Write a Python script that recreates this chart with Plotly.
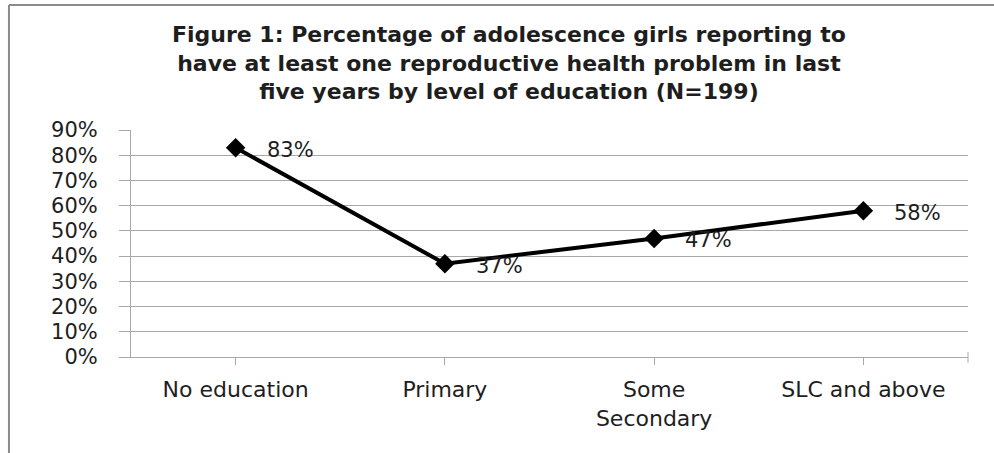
import plotly.graph_objects as go

categories = ["No education", "Primary", "Some<br>Secondary", "SLC and above"]
values = [0.83, 0.37, 0.47, 0.58]
labels = ["83%", "37%", "47%", "58%"]
title_text = ("<b>Figure 1: Percentage of adolescence girls reporting to<br>"
              "have at least one reproductive health problem in last<br>"
              "five years by level of education (N=199)</b>")

FONT = "DejaVu Sans"
TXT = "#1e1e1e"
GRID = "#a8a8a8"

fig = go.Figure()
fig.add_trace(go.Scatter(
    x=categories, y=values, mode="lines+markers",
    line=dict(color="black", width=4),
    marker=dict(symbol="diamond", size=15, color="black"),
    showlegend=False, hoverinfo="skip",
))

for c, v, t in zip(categories, values, labels):
    fig.add_annotation(x=c, y=v, text=t, showarrow=False, xanchor="left",
                       yanchor="middle", xshift=29, yshift=-2,
                       font=dict(family=FONT, size=21, color=TXT))

# chart frame (left and top edges) and end tick of the category axis
fig.add_shape(type="line", xref="paper", yref="paper", x0=-0.1458, x1=-0.1458,
              y0=1.551, y1=-0.5, line=dict(color="#8a8a8a", width=2))
fig.add_shape(type="line", xref="paper", yref="paper", x0=-0.1458, x1=1.04,
              y0=1.551, y1=1.551, line=dict(color="#8a8a8a", width=2))
fig.add_shape(type="line", xref="paper", yref="paper", x0=1, x1=1,
              y0=0.022, y1=-0.026, line=dict(color=GRID, width=1))

fig.update_layout(
    width=994, height=453,
    margin=dict(l=131, r=26, t=130, b=96),
    paper_bgcolor="white", plot_bgcolor="white",
    title=dict(text=title_text, x=0.512, xanchor="center", xref="container",
               y=1 - 42 / 453, yanchor="top", yref="container",
               font=dict(family=FONT, size=22, color=TXT)),
    font=dict(family=FONT, color=TXT),
)
fig.update_xaxes(
    type="category", range=[-0.5, 3.5],
    showline=True, linecolor=GRID, linewidth=1,
    showgrid=False, ticks="outside", ticklen=7, tickcolor=GRID,
    tickfont=dict(family=FONT, size=22, color=TXT),
    ticklabelstandoff=6,
)
fig.update_yaxes(
    range=[0, 0.9], dtick=0.1, tickformat=".0%",
    showline=True, linecolor=GRID, linewidth=1,
    showgrid=True, gridcolor=GRID, gridwidth=1,
    ticks="outside", ticklen=11, tickcolor=GRID,
    tickfont=dict(family=FONT, size=21, color=TXT),
    ticklabelstandoff=17, zeroline=False,
)

fig.write_html("out.html")
